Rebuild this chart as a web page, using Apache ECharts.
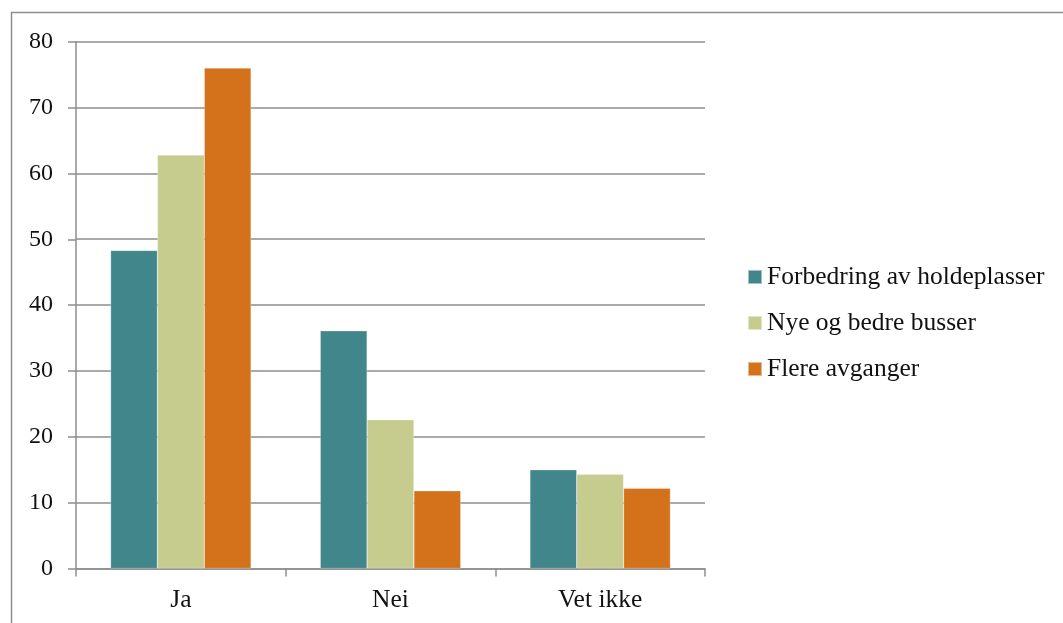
<!DOCTYPE html>
<html>
<head>
<meta charset="utf-8">
<script src="https://cdn.jsdelivr.net/npm/echarts@6/dist/echarts.min.js"></script>
<style>
  html, body { margin: 0; padding: 0; background: #fff; }
  #chart { width: 1063px; height: 623px; }
</style>
</head>
<body>
<div id="chart"></div>
<script>
// Survey answers per improvement type
const categories = ['Ja', 'Nei', 'Vet ikke'];
const seriesNames = ['Forbedring av holdeplasser', 'Nye og bedre busser', 'Flere avganger'];
const holdeplasser = [48.3, 36.1, 15.0];
const busser = [62.8, 22.6, 14.3];
const avganger = [76.0, 11.8, 12.2];
const yTicks = { min: 0, max: 80, interval: 10 };

const colors = ['#41868A', '#C5CC8E', '#D4721C'];
const font = '"Liberation Serif", "DejaVu Serif", serif';
const axisGray = '#8E8E8E';

const chart = echarts.init(document.getElementById('chart'), null, { renderer: 'canvas' });

const makeBar = (name, data, color) => ({
  name,
  type: 'bar',
  data,
  barGap: '0%',
  barCategoryGap: '33%',
  itemStyle: { color, borderColor: 'rgba(255,255,255,0.5)', borderWidth: 0.5 },
  emphasis: { disabled: true }
});

chart.setOption({
  animation: false,
  backgroundColor: '#fff',
  textStyle: { fontFamily: font },
  graphic: [{
    type: 'rect',
    shape: { x: 11.5, y: 12.5, width: 1200, height: 800 },
    style: { fill: 'none', stroke: axisGray, lineWidth: 1.5 },
    z: -1
  }],
  grid: { left: 76, top: 41.7, right: 358, bottom: 54.5, containLabel: false },
  legend: {
    orient: 'vertical',
    left: 747,
    top: 264,
    padding: 0,
    itemWidth: 14,
    itemHeight: 14,
    itemGap: 20,
    icon: 'rect',
    textStyle: { fontFamily: font, fontSize: 25.5, lineHeight: 25, color: '#111' },
    data: seriesNames
  },
  xAxis: {
    type: 'category',
    data: categories,
    boundaryGap: true,
    axisLine: { lineStyle: { color: axisGray, width: 1.5 } },
    axisTick: { show: true, length: 8, alignWithLabel: false, lineStyle: { color: axisGray, width: 1.5 } },
    axisLabel: { fontFamily: font, fontSize: 25.5, color: '#111', margin: 19 }
  },
  yAxis: {
    type: 'value',
    min: yTicks.min,
    max: yTicks.max,
    interval: yTicks.interval,
    axisLine: { show: true, lineStyle: { color: axisGray, width: 1.5 } },
    axisTick: { show: true, length: 8, lineStyle: { color: axisGray, width: 1.5 } },
    axisLabel: { fontFamily: font, fontSize: 24, color: '#111', margin: 23 },
    splitLine: { show: true, lineStyle: { color: axisGray, width: 1.5 } }
  },
  series: [
    makeBar(seriesNames[0], holdeplasser, colors[0]),
    makeBar(seriesNames[1], busser, colors[1]),
    makeBar(seriesNames[2], avganger, colors[2])
  ]
});
</script>
</body>
</html>
